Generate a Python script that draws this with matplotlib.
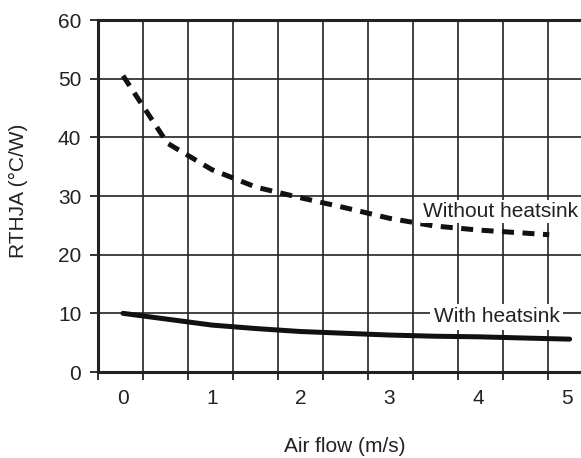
import numpy as np
import matplotlib
matplotlib.use("Agg")
import matplotlib.pyplot as plt

plt.rcParams['font.family'] = ['Liberation Sans', 'DejaVu Sans']

# air flow (m/s)
flow_no_hs = [0, 0.5, 1.0, 1.5, 2.0, 2.5, 3.0, 3.5, 4.0, 4.5, 4.8]
rth_no_hs = [50.5, 39.0, 34.5, 31.5, 29.7, 28.0, 26.2, 24.9, 24.2, 23.7, 23.4]

flow_hs = [0, 0.5, 1.0, 1.5, 2.0, 2.5, 3.0, 3.5, 4.0, 4.5, 5.03]
rth_hs = [10.0, 9.0, 8.0, 7.4, 6.9, 6.6, 6.3, 6.1, 6.0, 5.8, 5.6]

x_labels = ['0', '1', '2', '3', '4', '5']
y_ticks = [0, 10, 20, 30, 40, 50, 60]

fs = 15
fig = plt.figure(figsize=(5.81, 4.58), dpi=100)
ax = fig.add_axes([98/581, 1-372/458, (581-98)/581, (372-20)/458])

ax.plot(flow_hs, rth_hs, color='#111111', lw=3.6, solid_capstyle='round', zorder=3)
ax.plot(flow_no_hs, rth_no_hs, color='#111111', lw=3.6, dashes=(2.4, 1.7), zorder=3)

xmin, xmax = -0.2815, 5.158
ax.set_xlim(xmin, xmax)
ax.set_ylim(0, 60)

# gridlines / tick marks every 45 px, labels sit between them
step = 45/88.8
grid_x = np.arange(xmin, xmax, step)
ax.set_xticks(grid_x)
ax.set_xticklabels([])
ax.set_xticks(range(len(x_labels)), minor=True)
ax.set_xticklabels(x_labels, minor=True)
ax.tick_params(axis='x', which='major', direction='out', length=6, width=1.3, color='#222222')
ax.tick_params(axis='x', which='minor', length=0, pad=12, labelsize=fs, labelcolor='#222222')

ax.set_yticks(y_ticks)
ax.tick_params(axis='y', direction='out', length=6, width=1.3, pad=6, labelsize=fs,
               color='#222222', labelcolor='#222222')

ax.grid(True, which='major', color='#222222', lw=1.2)
ax.set_axisbelow(True)

for side in ['left', 'bottom', 'top']:
    ax.spines[side].set_linewidth(2.2)
    ax.spines[side].set_color('#222222')
ax.spines['right'].set_visible(False)

ax.text(4.25, 27.3, 'Without heatsink', fontsize=fs, color='#222222', ha='center', va='center',
        bbox=dict(facecolor='white', edgecolor='none', pad=1.5), zorder=4)
ax.text(4.21, 9.4, 'With heatsink', fontsize=fs, color='#222222', ha='center', va='center',
        bbox=dict(facecolor='white', edgecolor='none', pad=2.5), zorder=2)

fig.text(345/581, 1-447/458, 'Air flow (m/s)', fontsize=fs, color='#222222', ha='center', va='center')
fig.text(18/581, 1-191/458, 'RTHJA (°C/W)', fontsize=fs, color='#222222', ha='center', va='center',
         rotation=90)

fig.savefig('out.png', dpi=100)
